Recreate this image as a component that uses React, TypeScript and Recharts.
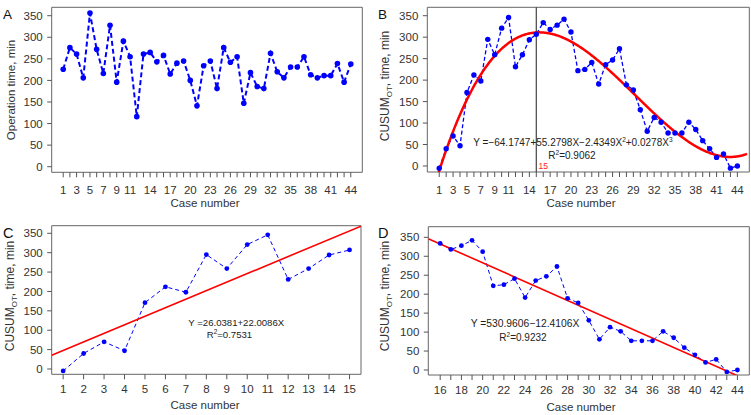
import React from 'react';
import { ComposedChart, Line, XAxis, YAxis, ReferenceLine, ReferenceArea } from 'recharts';

const FONT = "'Liberation Sans', Arial, Helvetica, sans-serif";

const caseNumbers = [1, 2, 3, 4, 5, 6, 7, 8, 9, 10, 11, 12, 13, 14, 15, 16, 17, 18, 19, 20, 21, 22, 23, 24, 25, 26, 27, 28, 29, 30, 31, 32, 33, 34, 35, 36, 37, 38, 39, 40, 41, 42, 43, 44];
const operationTime = [226, 276, 261, 206, 356, 272, 216, 328, 196, 291, 255, 116, 261, 265, 243, 258, 215, 240, 245, 200, 141, 234, 245, 181, 276, 242, 255, 147, 218, 186, 181, 263, 220, 206, 231, 231, 255, 213, 206, 211, 211, 239, 196, 238];
const cusumOT = [-5, 40, 70, 47, 171, 212, 198, 295, 259, 321, 346, 231, 259, 294, 307, 334, 318, 328, 342, 312, 222, 225, 241, 191, 236, 247, 273, 189, 177, 131, 81, 113, 102, 77, 77, 77, 102, 85, 59, 40, 20, 28, -5, 0];

const labelsAB = [1, 3, 5, 7, 9, 11, 14, 17, 20, 23, 26, 29, 32, 35, 38, 41, 44];
const labelsC = [1, 2, 3, 4, 5, 6, 7, 8, 9, 10, 11, 12, 13, 14, 15];
const labelsD = [16, 18, 20, 22, 24, 26, 28, 30, 32, 34, 36, 38, 40, 42, 44];
const yTicks = [0, 50, 100, 150, 200, 250, 300, 350];

const polyCoefB = [-64.1747, 55.2798, -2.4349, 0.0278];
const linCoefC = [26.0381, 22.0086];
const linCoefD = [530.9606, -12.4106];
const changePoint = 15;

type Pt = { x: number; y: number };

const seriesA: Pt[] = caseNumbers.map((c, i) => ({ x: c, y: operationTime[i] }));
const seriesB: Pt[] = caseNumbers.map((c, i) => ({ x: c, y: cusumOT[i] }));
const seriesC: Pt[] = seriesB.slice(0, 15);
const seriesD: Pt[] = seriesB.slice(15);

const poly = (c: number[], x: number) => c.reduce((s, k, i) => s + k * Math.pow(x, i), 0);

const fitBxs: number[] = [];
for (let x = 0.9; x <= 45.41; x += 0.1) fitBxs.push(x);
const fitB: Pt[] = fitBxs.map((x) => ({ x, y: poly(polyCoefB, x) }));

const xDomA: [number, number] = [-0.72, 45.72];
const xDomC: [number, number] = [0.44, 15.56];
const xDomD: [number, number] = [14.88, 45.12];
const fitC: Pt[] = xDomC.map((x) => ({ x, y: poly(linCoefC, x) }));
const fitD: Pt[] = xDomD.map((x) => ({ x, y: poly(linCoefD, x) }));

type PanelProps = {
  left: number; top: number; width: number; height: number;
  box: [number, number, number, number];
  xDomain: [number, number]; yDomain: [number, number];
  xTicks: number[]; xLabels: number[]; labelDy: number;
  series: Pt[]; lineW: number; dash: string; dotR: number;
  fit?: Pt[]; fitW?: number; vline?: number;
};

const Panel = (p: PanelProps) => {
  const [l, t, r, b] = p.box;
  const renderXTick = (props: any) => {
    const { x, y, payload } = props;
    if (!p.xLabels.includes(payload.value)) return <g />;
    return (
      <text x={x} y={y + p.labelDy} textAnchor="middle" fontSize={11.5} fill="#333" fontFamily={FONT}>
        {payload.value}
      </text>
    );
  };
  return (
    <div style={{ position: 'absolute', left: p.left, top: p.top, width: p.width, height: p.height }}>
      <ComposedChart
        width={p.width}
        height={p.height}
        margin={{ top: t - p.top, right: p.left + p.width - r, bottom: 0, left: 0 }}
      >
        <XAxis
          type="number"
          dataKey="x"
          domain={p.xDomain}
          allowDataOverflow
          ticks={p.xTicks}
          interval={0}
          axisLine={false}
          tickLine={{ stroke: '#555', strokeWidth: 1 }}
          tickSize={5}
          tickMargin={0}
          height={p.top + p.height - b}
          tick={renderXTick}
        />
        <YAxis
          type="number"
          dataKey="y"
          domain={p.yDomain}
          allowDataOverflow
          ticks={yTicks}
          interval={0}
          axisLine={false}
          tickLine={{ stroke: '#555', strokeWidth: 1 }}
          tickSize={4.5}
          tickMargin={4.5}
          width={l - p.left}
          tick={{ fontSize: 11.5, fill: '#333', fontFamily: FONT }}
        />
        <ReferenceArea
          x1={p.xDomain[0]} x2={p.xDomain[1]} y1={p.yDomain[0]} y2={p.yDomain[1]}
          fill="none" fillOpacity={0} stroke="#666" strokeWidth={1} ifOverflow="visible"
        />
        {p.vline !== undefined && (
          <ReferenceLine
            x={p.vline}
            stroke="#444"
            strokeWidth={1.2}
            label={(lp: any) => {
              const vb = lp.viewBox;
              return (
                <text x={vb.x + 2.3} y={vb.y + vb.height - 3} fontSize={8.5} fill="#ff2020" fontFamily={FONT}>
                  {String(p.vline)}
                </text>
              );
            }}
          />
        )}
        <Line
          data={p.series}
          dataKey="y"
          type="linear"
          stroke="#0000ff"
          strokeWidth={p.lineW}
          strokeDasharray={p.dash}
          dot={{ r: p.dotR, fill: '#0000ff', stroke: 'none', strokeWidth: 0 }}
          isAnimationActive={false}
        />
        {p.fit && (
          <Line
            data={p.fit}
            dataKey="y"
            type="linear"
            stroke="#ff0000"
            strokeWidth={p.fitW}
            dot={false}
            isAnimationActive={false}
          />
        )}
      </ComposedChart>
    </div>
  );
};

const CusumTitle = ({ x, y }: { x: number; y: number }) => (
  <text x={x} y={y} transform={`rotate(-90 ${x} ${y})`} textAnchor="middle" fontSize={12} fill="#333" fontFamily={FONT}>
    CUSUM<tspan dy={3} fontSize={8}>OT</tspan><tspan dy={-3}>, time, min</tspan>
  </text>
);

const SUP = 6.5;

export default function App() {
  return (
    <div style={{ position: 'absolute', left: 0, top: 0, width: 751, height: 415, background: '#fff', overflow: 'hidden' }}>
      <Panel left={0} top={0} width={375} height={207} box={[51.7, 7.3, 362.3, 172.3]}
        xDomain={xDomA} yDomain={[-13, 369.5]} xTicks={caseNumbers} xLabels={labelsAB} labelDy={16.5}
        series={seriesA} lineW={2} dash="5 3" dotR={2.8} />
      <Panel left={375} top={0} width={376} height={207} box={[427.3, 7.3, 749.3, 172]}
        xDomain={xDomA} yDomain={[-14, 369.6]} xTicks={caseNumbers} xLabels={labelsAB} labelDy={16.5}
        series={seriesB} lineW={1.3} dash="4 2.5" dotR={2.7} fit={fitB} fitW={2.5} vline={changePoint} />
      <Panel left={0} top={207} width={375} height={208} box={[51.7, 225.7, 361, 374.3]}
        xDomain={xDomC} yDomain={[-13.7, 369.6]} xTicks={labelsC} xLabels={labelsC} labelDy={14}
        series={seriesC} lineW={1} dash="4 3" dotR={2.4} fit={fitC} fitW={1.6} />
      <Panel left={375} top={207} width={376} height={208} box={[428.3, 226.7, 749.3, 375]}
        xDomain={xDomD} yDomain={[-13.2, 378]} xTicks={caseNumbers.slice(15)} xLabels={labelsD} labelDy={14.3}
        series={seriesD} lineW={1} dash="4 3" dotR={2.4} fit={fitD} fitW={1.6} />

      <svg width={751} height={415} style={{ position: 'absolute', left: 0, top: 0, pointerEvents: 'none' }}>
        <g fontFamily={FONT}>
          <text x={3} y={19.3} fontSize={13.5} fill="#111">A</text>
          <text x={378} y={19.3} fontSize={13.5} fill="#111">B</text>
          <text x={3} y={238.3} fontSize={14.5} fill="#111">C</text>
          <text x={378} y={238.3} fontSize={14.5} fill="#111">D</text>

          <text x={14.5} y={90} transform="rotate(-90 14.5 90)" textAnchor="middle" fontSize={11.5} fill="#333">Operation time, min</text>
          <CusumTitle x={388.5} y={86} />
          <CusumTitle x={13.5} y={296} />
          <CusumTitle x={389} y={296} />

          <text x={205} y={206.5} textAnchor="middle" fontSize={11.5} fill="#333">Case number</text>
          <text x={581} y={206.5} textAnchor="middle" fontSize={11.5} fill="#333">Case number</text>
          <text x={205} y={409} textAnchor="middle" fontSize={11.5} fill="#333">Case number</text>
          <text x={581} y={410.5} textAnchor="middle" fontSize={11.5} fill="#333">Case number</text>

          <text x={473.3} y={146} fontSize={10} fill="#222">
            <tspan>Y =−64.1747+55.2798X−2.4349X</tspan>
            <tspan dy={-4} fontSize={SUP}>2</tspan>
            <tspan dy={4}>+0.0278X</tspan>
            <tspan dy={-4} fontSize={SUP}>3</tspan>
          </text>
          <text x={548.3} y={159.3} fontSize={10} fill="#222">
            <tspan>R</tspan>
            <tspan dy={-4} fontSize={SUP}>2</tspan>
            <tspan dy={4}>=0.9062</tspan>
          </text>

          <text x={188.3} y={325.7} fontSize={9.6} fill="#222">Y =26.0381+22.0086X</text>
          <text x={206.7} y={338.3} fontSize={9.6} fill="#222">
            <tspan>R</tspan>
            <tspan dy={-4} fontSize={SUP}>2</tspan>
            <tspan dy={4}>=0.7531</tspan>
          </text>

          <text x={470.7} y={326.7} fontSize={10.3} fill="#222">Y =530.9606−12.4106X</text>
          <text x={499.3} y={341} fontSize={10} fill="#222">
            <tspan>R</tspan>
            <tspan dy={-4} fontSize={SUP}>2</tspan>
            <tspan dy={4}>=0.9232</tspan>
          </text>
        </g>
      </svg>
    </div>
  );
}
